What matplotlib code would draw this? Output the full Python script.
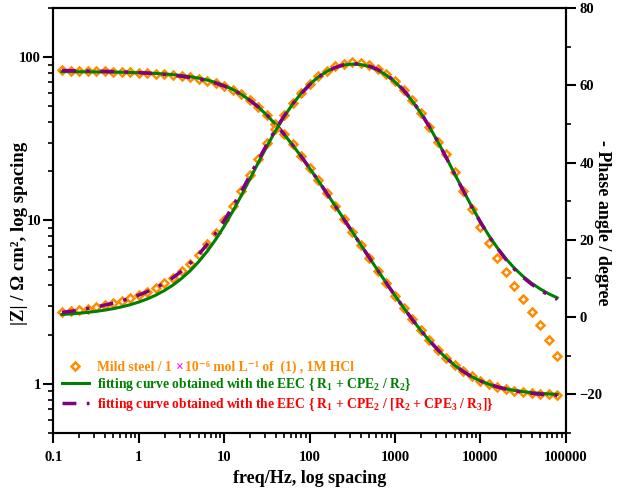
import matplotlib
matplotlib.use("Agg")
import matplotlib.pyplot as plt
from matplotlib.lines import Line2D
from matplotlib.text import Text
from matplotlib.ticker import MultipleLocator, NullFormatter

plt.rcParams['font.family'] = ['Liberation Serif', 'DejaVu Serif']
plt.rcParams['font.weight'] = 'bold'
plt.rcParams['axes.labelweight'] = 'bold'
plt.rcParams['mathtext.fontset'] = 'custom'
plt.rcParams['mathtext.rm'] = 'Liberation Serif:bold'
plt.rcParams['mathtext.it'] = 'Liberation Serif:bold'
plt.rcParams['mathtext.bf'] = 'Liberation Serif:bold'
plt.rcParams['mathtext.default'] = 'rm'
plt.rcParams['axes.linewidth'] = 1.5

# frequencies of the measured points (Hz)
freq = [0.1259, 0.1585, 0.1995, 0.2512, 0.3162, 0.3981, 0.5012, 0.631, 0.7943,
        1.0, 1.259, 1.585, 1.995, 2.512, 3.162, 3.981, 5.012, 6.31, 7.943,
        10, 12.59, 15.85, 19.95, 25.12, 31.62, 39.81, 50.12, 63.1, 79.43,
        100, 125.9, 158.5, 199.5, 251.2, 316.2, 398.1, 501.2, 631, 794.3,
        1000, 1259, 1585, 1995, 2512, 3162, 3981, 5012, 6310, 7943,
        10000, 12589, 15849, 19953, 25119, 31623, 39811, 50119, 63096, 79433]

# measured |Z| (ohm cm2) and -phase (degree)
z_data = [83.0, 82.8, 82.6, 82.4, 82.2, 82.0, 81.7, 81.4, 81.0,
          80.5, 79.9, 79.2, 78.4, 77.5, 76.4, 75.1, 73.6, 71.7, 69.4,
          66.6, 63.2, 59.2, 54.6, 49.6, 44.4, 39.1, 34.0, 29.2, 24.9,
          21.0, 17.6, 14.7, 12.3, 10.2, 8.5, 7.08, 5.90, 4.93, 4.13,
          3.47, 2.93, 2.49, 2.13, 1.85, 1.62, 1.44, 1.30, 1.19, 1.11,
          1.045, 0.995, 0.958, 0.930, 0.908, 0.892, 0.879, 0.869, 0.862, 0.856]
phase_data = [1.2, 1.6, 1.9, 2.2, 2.7, 3.2, 3.6, 4.2, 4.9,
              5.7, 6.5, 7.5, 8.7, 10.1, 11.8, 13.8, 16.1, 18.8, 21.8,
              25.1, 28.8, 32.7, 36.8, 41.0, 45.0, 48.8, 52.3, 55.4, 58.1,
              60.4, 62.3, 63.8, 64.9, 65.6, 65.9, 65.8, 65.3, 64.3, 62.9,
              61.1, 58.8, 56.1, 52.9, 49.3, 45.4, 42.3, 37.5, 32.7, 28.0,
              23.4, 19.3, 15.4, 11.6, 8.1, 4.6, 1.3, -2.0, -5.9, -10.0]

# fit 1: R1 + CPE2/R2
z_fit1 = [81.6, 81.55, 81.48, 81.4, 81.3, 81.18, 81.03, 80.85, 80.61,
          80.31, 79.95, 79.47, 78.89, 78.13, 77.17, 75.95, 74.39, 72.43, 69.99,
          67.0, 63.41, 59.22, 54.52, 49.43, 44.13, 38.85, 33.75, 29.01, 24.71,
          20.89, 17.57, 14.71, 12.29, 10.24, 8.529, 7.1, 5.916, 4.938, 4.133,
          3.47, 2.929, 2.488, 2.132, 1.845, 1.618, 1.438, 1.297, 1.189, 1.106,
          1.042, 0.994, 0.958, 0.931, 0.910, 0.895, 0.883, 0.874, 0.867, 0.861]
phase_fit1 = [0.68, 0.82, 1.0, 1.22, 1.48, 1.8, 2.18, 2.65, 3.21,
              3.89, 4.71, 5.69, 6.88, 8.29, 9.98, 11.97, 14.3, 17.0, 20.08,
              23.55, 27.37, 31.45, 35.71, 40.01, 44.23, 48.19, 51.85, 55.09, 57.88,
              60.22, 62.12, 63.57, 64.62, 65.26, 65.5, 65.37, 64.85, 63.93, 62.61,
              60.87, 58.66, 55.99, 52.89, 49.36, 45.47, 41.33, 37.04, 32.75, 28.59,
              24.7, 21.11, 17.9, 15.09, 12.64, 10.55, 8.78, 7.29, 6.04, 4.99]

# fit 2: R1 + CPE2/[R2 + CPE3/R3]
z_fit2 = [82.9, 82.7, 82.5, 82.3, 82.1, 81.9, 81.6, 81.3, 80.9,
          80.4, 79.9, 79.2, 78.4, 77.5, 76.4, 75.1, 73.5, 71.6, 69.3,
          66.5, 63.1, 59.1, 54.5, 49.5, 44.3, 39.0, 33.9, 29.1, 24.8,
          20.9, 17.6, 14.7, 12.3, 10.2, 8.52, 7.09, 5.91, 4.93, 4.13,
          3.47, 2.93, 2.49, 2.13, 1.85, 1.62, 1.44, 1.30, 1.19, 1.105,
          1.042, 0.993, 0.956, 0.928, 0.906, 0.889, 0.875, 0.864, 0.855, 0.848]
phase_fit2 = [1.2, 1.5, 1.8, 2.2, 2.6, 3.1, 3.6, 4.2, 4.9,
              5.7, 6.6, 7.6, 8.8, 10.2, 11.9, 13.9, 16.2, 18.8, 21.7,
              25.0, 28.6, 32.5, 36.6, 40.7, 44.7, 48.5, 52.0, 55.1, 57.8,
              60.1, 62.0, 63.5, 64.6, 65.3, 65.6, 65.5, 65.0, 64.1, 62.8,
              61.0, 58.8, 56.1, 53.0, 49.4, 45.5, 41.3, 37.0, 32.7, 28.5,
              24.6, 21.0, 17.8, 14.9, 12.4, 10.3, 8.5, 7.0, 5.7, 4.6]

x_ticks = [0.1, 1, 10, 100, 1000, 10000, 100000]
x_labels = ["0.1", "1", "10", "100", "1000", "10000", "100000"]

ORANGE = '#FF8C00'
GREEN = '#008000'
PURPLE = '#800080'
DASHDOT = (0, (4, 3, 1, 3))

fig = plt.figure(figsize=(6.19, 4.95), dpi=100)
ax = fig.add_axes([0.0864, 0.1253, 0.8275, 0.8585])
ax2 = ax.twinx()

mk = dict(ls='none', marker='D', ms=3.6, mfc='white', mec=ORANGE, mew=1.8)
ax.plot(freq, z_data, zorder=1, **mk)
ax.plot(freq, z_fit1, color=GREEN, lw=2.2, zorder=2)
ax.plot(freq, z_fit2, color=PURPLE, lw=2.5, ls=DASHDOT, zorder=3)
ax2.plot(freq, phase_data, zorder=1, **mk)
ax2.plot(freq, phase_fit1, color=GREEN, lw=2.2, zorder=2)
ax2.plot(freq, phase_fit2, color=PURPLE, lw=2.5, ls=DASHDOT, zorder=3)

ax.set_xscale('log')
ax.set_yscale('log')
ax.set_xlim(0.1, 100000)
ax.set_ylim(0.5, 200)
ax.set_xticks(x_ticks)
ax.set_xticklabels(x_labels)
ax.xaxis.set_minor_formatter(NullFormatter())
ax.set_yticks([1, 10, 100])
ax.set_yticklabels(["1", "10", "100"])
ax.yaxis.set_minor_formatter(NullFormatter())

ax2.set_ylim(-30, 80)
ax2.yaxis.set_major_locator(MultipleLocator(20))
ax2.yaxis.set_minor_locator(MultipleLocator(10))

for a in (ax, ax2):
    a.tick_params(which='major', length=7, width=1.5, labelsize=10.5)
    a.tick_params(which='minor', length=3.5, width=1.2)
    for s in a.spines.values():
        s.set_linewidth(1.5)
    for lbl in a.get_xticklabels() + a.get_yticklabels():
        lbl.set_fontweight('bold')
ax.tick_params(axis='x', pad=6)
ax.tick_params(axis='y', pad=2)
ax2.tick_params(axis='y', pad=3)

ax.set_xlabel("freq/Hz, log spacing", fontsize=13, fontweight='bold', labelpad=4)
ax.set_ylabel("|Z| / Ω cm², log spacing", fontsize=13.5, fontweight='bold')
ax.yaxis.set_label_coords(-0.05, 0.47)
ax2.set_ylabel("- Phase angle / degree", fontsize=13, fontweight='bold',
               rotation=270, va='bottom')
ax2.yaxis.set_label_coords(1.056, 0.494)

handles = [Line2D([], [], **mk),
           Line2D([], [], color=GREEN, lw=2.2),
           Line2D([], [], color=PURPLE, lw=2.5, ls=DASHDOT)]
labels = [" ",
          "fitting curve obtained with the EEC { R$_1$ + CPE$_2$ / R$_2$}",
          "fitting curve obtained with the EEC { R$_1$ + CPE$_2$ / [R$_2$ + CPE$_3$ / R$_3$]}"]
leg = ax2.legend(handles, labels, loc='upper left', bbox_to_anchor=(0.016, 0.170),
                 frameon=False, prop={'size': 9.8, 'weight': 'bold'},
                 handlelength=2.0, handletextpad=0.6,
                 labelspacing=0.18, borderpad=0, borderaxespad=0, numpoints=1)
for t, c in zip(leg.get_texts(), [ORANGE, GREEN, '#FF0000']):
    t.set_color(c)

# first legend entry: orange text with a magenta multiplication sign
fig.canvas.draw()
renderer = fig.canvas.get_renderer()
lab = leg.get_texts()[0]
parts = [("Mild steel / 1 ", ORANGE), ("×", '#FF00FF'),
         ("10⁻⁶ mol L⁻¹ of  (1) , 1M HCl", ORANGE)]
xpos = 0
for s, c in parts:
    t = Text(xpos, 0, s, color=c, fontproperties=lab.get_fontproperties(),
             transform=lab.get_transform(), va=lab.get_va(), ha='left')
    t.set_figure(fig)
    w = t.get_window_extent(renderer).width
    fig.add_artist(t)
    xpos += w + (1.5 if c != ORANGE else 0.5)

fig.savefig("out.png", dpi=100)
